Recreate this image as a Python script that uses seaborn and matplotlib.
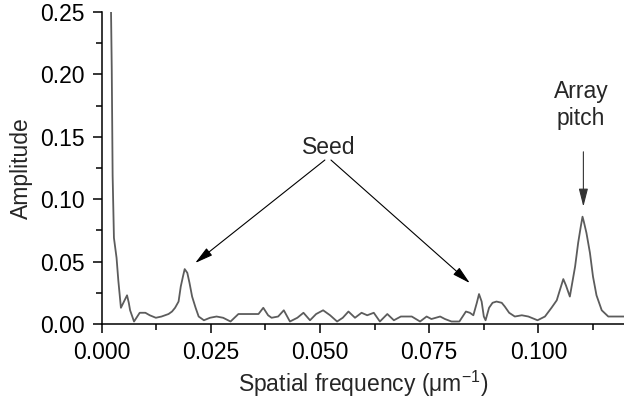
import matplotlib
matplotlib.use("Agg")
import matplotlib.pyplot as plt
from matplotlib.ticker import MultipleLocator, FormatStrFormatter
import seaborn as sns
import pandas as pd

# Spatial-frequency spectrum of the array image
frequency = [
    0.0021, 0.0023, 0.0025, 0.0028, 0.0034, 0.0038, 0.0044, 0.0058, 0.0062, 0.0065,
    0.0074, 0.0087, 0.0100, 0.0110, 0.0124, 0.0137, 0.0153, 0.0161, 0.0168, 0.0176,
    0.0181, 0.0186, 0.0190, 0.0196, 0.0201, 0.0207, 0.0215, 0.0222, 0.0234, 0.0248,
    0.0263, 0.0278, 0.0295, 0.0313, 0.0332, 0.0359, 0.0370, 0.0381, 0.0389, 0.0404,
    0.0417, 0.0431, 0.0448, 0.0462, 0.0477, 0.0491, 0.0507, 0.0523, 0.0539, 0.0552,
    0.0565, 0.0580, 0.0595, 0.0608, 0.0623, 0.0637, 0.0654, 0.0669, 0.0685, 0.0710,
    0.0729, 0.0744, 0.0755, 0.0775, 0.0786, 0.0801, 0.0819, 0.0834, 0.0843, 0.0851,
    0.0859, 0.0864, 0.0870, 0.0875, 0.0879, 0.0887, 0.0895, 0.0904, 0.0916, 0.0923,
    0.0933, 0.0946, 0.0962, 0.0977, 0.0998, 0.1015, 0.1030, 0.1042, 0.1049, 0.1057,
    0.1063, 0.1072, 0.1076, 0.1084, 0.1091, 0.1097, 0.1101, 0.1104, 0.1110, 0.1118,
    0.1125, 0.1133, 0.1145, 0.1160, 0.1179, 0.1196,
]
amplitude = [
    0.260, 0.204, 0.119, 0.069, 0.053, 0.035, 0.013, 0.023, 0.017, 0.011,
    0.002, 0.009, 0.009, 0.007, 0.005, 0.006, 0.008, 0.010, 0.013, 0.018,
    0.030, 0.038, 0.044, 0.041, 0.033, 0.022, 0.013, 0.006, 0.003, 0.005,
    0.006, 0.005, 0.002, 0.008, 0.008, 0.008, 0.013, 0.007, 0.005, 0.006,
    0.011, 0.002, 0.005, 0.009, 0.003, 0.008, 0.011, 0.007, 0.002, 0.005,
    0.010, 0.005, 0.009, 0.007, 0.009, 0.002, 0.008, 0.003, 0.006, 0.006,
    0.002, 0.006, 0.004, 0.006, 0.004, 0.002, 0.002, 0.010, 0.009, 0.007,
    0.017, 0.024, 0.018, 0.006, 0.003, 0.013, 0.017, 0.018, 0.017, 0.014,
    0.009, 0.006, 0.007, 0.006, 0.003, 0.006, 0.013, 0.019, 0.027, 0.036,
    0.031, 0.022, 0.030, 0.046, 0.065, 0.078, 0.086, 0.082, 0.073, 0.057,
    0.038, 0.023, 0.011, 0.006, 0.006, 0.006,
]

# Annotation anchors (data coordinates)
seed_label = (0.0521, 0.1418)
seed_starts = [(0.0511, 0.1314), (0.0525, 0.1314)]
seed_tips = [(0.0214, 0.0489), (0.0843, 0.0328)]
pitch_label = (0.1098, 0.1755)
pitch_start = (0.1103, 0.138)
pitch_tip = (0.1103, 0.094)

sns.set_style("ticks")
plt.rcParams["font.family"] = ["Liberation Sans", "DejaVu Sans"]
plt.rcParams["mathtext.fontset"] = "custom"
plt.rcParams["mathtext.rm"] = "Liberation Sans"
plt.rcParams["mathtext.it"] = "Liberation Sans"

FS = 16.5
fig = plt.figure(figsize=(6.24, 4.01), dpi=100)
ax = fig.add_axes([0.163, 0.192, 0.837, 0.778])

df = pd.DataFrame({"f": frequency, "a": amplitude})
sns.lineplot(data=df, x="f", y="a", ax=ax, color="#5c5c5c", linewidth=1.3,
             sort=False, estimator=None)

ax.set_xlim(0, 0.1196)
ax.set_ylim(0, 0.25)
ax.xaxis.set_major_locator(MultipleLocator(0.025))
ax.xaxis.set_minor_locator(MultipleLocator(0.0125))
ax.yaxis.set_major_locator(MultipleLocator(0.05))
ax.yaxis.set_minor_locator(MultipleLocator(0.025))
ax.xaxis.set_major_formatter(FormatStrFormatter("%.3f"))
ax.yaxis.set_major_formatter(FormatStrFormatter("%.2f"))
ax.tick_params(axis="both", which="major", labelsize=FS, length=6.5, width=1.1,
               color="black", labelcolor="black")
ax.tick_params(axis="x", which="major", pad=6)
ax.tick_params(axis="y", which="major", pad=6)
ax.tick_params(axis="both", which="minor", length=4.5, width=1.1, color="black")

for side in ("top", "right"):
    ax.spines[side].set_visible(False)
for side in ("left", "bottom"):
    ax.spines[side].set_linewidth(1.1)
    ax.spines[side].set_color("black")

ax.set_xlabel("Spatial frequency (\u03bcm$^{\\mathrm{\u2212}1}$)", fontsize=FS, labelpad=3)
ax.set_ylabel("Amplitude", fontsize=FS, labelpad=5)

arrow = dict(arrowstyle="-|>,head_length=1.1,head_width=0.28", color="black",
             lw=0.8, shrinkA=0, shrinkB=0, mutation_scale=10)
ax.text(*seed_label, "Seed", fontsize=FS, ha="center", va="center")
for start, tip in zip(seed_starts, seed_tips):
    ax.annotate("", xy=tip, xytext=start, arrowprops=arrow)

ax.text(*pitch_label, "Array\npitch", fontsize=FS, ha="center", va="center",
        linespacing=1.2)
ax.annotate("", xy=pitch_tip, xytext=pitch_start,
            arrowprops=dict(arrow, color="#333333"))

fig.savefig("out.png", dpi=100)
